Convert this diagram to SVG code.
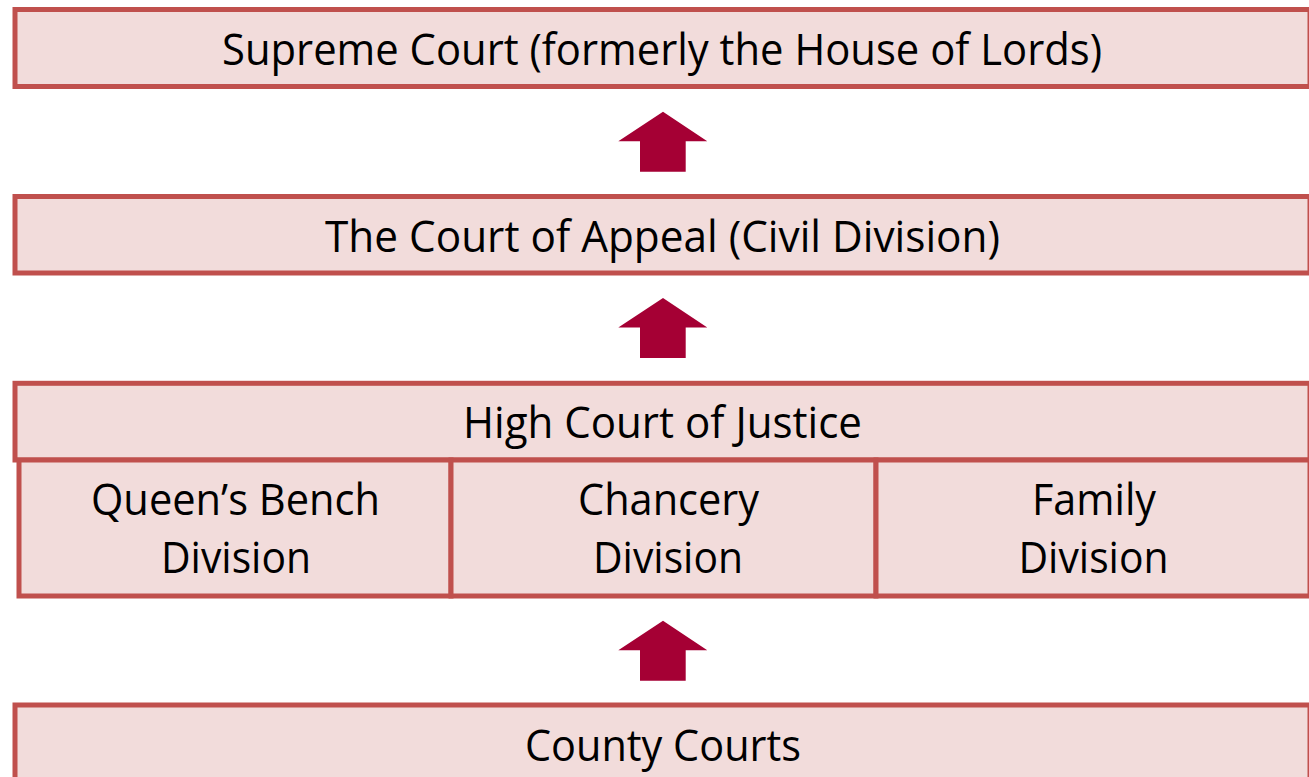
<svg xmlns="http://www.w3.org/2000/svg" width="1309" height="777" viewBox="0 0 1309 777">
<style>
.box{fill:#F2DCDB;stroke:#C0504D;stroke-width:5}
.lbl{font-family:"Open Sans","Liberation Sans",sans-serif;font-size:44px;fill:#000;text-anchor:middle}
.arr{fill:#A50034}
</style>
<rect width="1309" height="777" fill="#fff"/>
<g id="supreme">
<rect class="box" x="15" y="9.5" width="1295" height="77"/>
<text class="lbl" x="662" y="64.5" textLength="880" lengthAdjust="spacingAndGlyphs">Supreme Court (formerly the House of Lords)</text>
</g>
<g id="appeal">
<rect class="box" x="15" y="196.5" width="1295" height="76.5"/>
<text class="lbl" x="662.5" y="251.5" textLength="675" lengthAdjust="spacingAndGlyphs">The Court of Appeal (Civil Division)</text>
</g>
<g id="highcourt">
<rect class="box" x="15" y="383.3" width="1295" height="76.7"/>
<text class="lbl" x="662.5" y="438" textLength="399" lengthAdjust="spacingAndGlyphs">High Court of Justice</text>
</g>
<g id="queensbench">
<rect class="box" x="19" y="460" width="432" height="136"/>
<text class="lbl" x="235.5" y="515" textLength="289" lengthAdjust="spacingAndGlyphs">Queen’s Bench</text>
<text class="lbl" x="236" y="572.5" textLength="150" lengthAdjust="spacingAndGlyphs">Division</text>
</g>
<g id="chancery">
<rect class="box" x="451" y="460" width="425" height="136"/>
<text class="lbl" x="668.5" y="515" textLength="181" lengthAdjust="spacingAndGlyphs">Chancery</text>
<text class="lbl" x="668" y="572.5" textLength="150" lengthAdjust="spacingAndGlyphs">Division</text>
</g>
<g id="family">
<rect class="box" x="876" y="460" width="434" height="136"/>
<text class="lbl" x="1094" y="515" textLength="124" lengthAdjust="spacingAndGlyphs">Family</text>
<text class="lbl" x="1093.5" y="572.5" textLength="150" lengthAdjust="spacingAndGlyphs">Division</text>
</g>
<g id="county">
<rect class="box" x="15" y="705" width="1295" height="80"/>
<text class="lbl" x="663" y="760.5" textLength="276" lengthAdjust="spacingAndGlyphs">County Courts</text>
</g>
<g id="connectors">
<polygon class="arr" points="663,111.7 707.3,141.3 685.7,141.3 685.7,171.7 640,171.7 640,141.3 618.3,141.3"/>
<polygon class="arr" points="663,298 707.3,327.6 685.7,327.6 685.7,358 640,358 640,327.6 618.3,327.6"/>
<polygon class="arr" points="663,620.7 707.3,650.3 685.7,650.3 685.7,680.7 640,680.7 640,650.3 618.3,650.3"/>
</g>
</svg>
